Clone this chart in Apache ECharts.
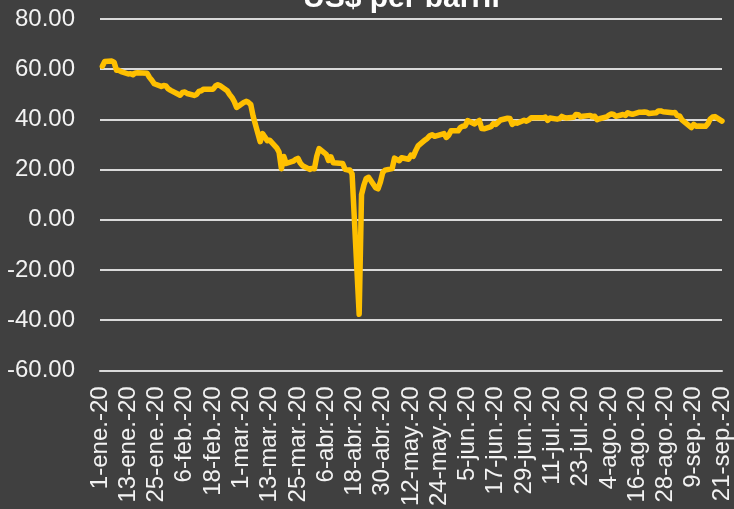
<!DOCTYPE html>
<html>
<head>
<meta charset="utf-8">
<script src="https://cdn.jsdelivr.net/npm/echarts@6/dist/echarts.min.js"></script>
<style>
  html, body { margin: 0; padding: 0; background: #404040; }
  #chart { width: 734px; height: 509px; }
</style>
</head>
<body>
<div id="chart"></div>
<script>
// trading days (2020) and closing price, US$ per barrel
const dates = [
  '01-02','01-03','01-06','01-07','01-08','01-09','01-10','01-13','01-14','01-15','01-16','01-17','01-21','01-22','01-23','01-24','01-27','01-28','01-29','01-30','01-31',
  '02-03','02-04','02-05','02-06','02-07','02-10','02-11','02-12','02-13','02-14','02-18','02-19','02-20','02-21','02-24','02-25','02-26','02-27','02-28',
  '03-02','03-03','03-04','03-05','03-06','03-09','03-10','03-11','03-12','03-13','03-16','03-17','03-18','03-19','03-20','03-23','03-24','03-25','03-26','03-27','03-30','03-31',
  '04-01','04-02','04-03','04-06','04-07','04-08','04-09','04-13','04-14','04-15','04-16','04-17','04-20','04-21','04-22','04-23','04-24','04-27','04-28','04-29','04-30',
  '05-01','05-04','05-05','05-06','05-07','05-08','05-11','05-12','05-13','05-14','05-15','05-18','05-19','05-20','05-21','05-22','05-26','05-27','05-28','05-29',
  '06-01','06-02','06-03','06-04','06-05','06-08','06-09','06-10','06-11','06-12','06-15','06-16','06-17','06-18','06-19','06-22','06-23','06-24','06-25','06-26','06-29','06-30',
  '07-01','07-02','07-06','07-07','07-08','07-09','07-10','07-13','07-14','07-15','07-16','07-17','07-20','07-21','07-22','07-23','07-24','07-27','07-28','07-29','07-30','07-31',
  '08-03','08-04','08-05','08-06','08-07','08-10','08-11','08-12','08-13','08-14','08-17','08-18','08-19','08-20','08-21','08-24','08-25','08-26','08-27','08-28','08-31',
  '09-01','09-02','09-03','09-04','09-08','09-09','09-10','09-11','09-14','09-15','09-16','09-17','09-18','09-21'
]
const prices = [
  61.18,63.05,63.27,62.70,59.61,59.56,59.04,58.08,58.23,57.81,58.52,58.54,58.38,56.74,55.59,54.19,53.14,53.48,53.33,52.14,51.56,
  50.11,49.61,50.75,50.95,50.32,49.57,49.94,51.17,51.42,52.05,52.05,53.29,53.78,53.38,51.43,49.90,48.73,47.09,44.76,
  46.75,47.18,46.78,45.90,41.28,31.13,34.36,32.98,31.50,31.73,28.70,26.95,20.37,25.22,22.43,23.36,24.01,24.49,22.60,21.51,20.09,20.48,
  20.31,25.32,28.34,26.08,23.63,25.09,22.76,22.41,20.11,19.87,19.87,18.27,-37.63,10.01,13.78,16.50,16.94,12.78,12.34,15.06,18.84,
  19.78,20.39,24.56,23.99,23.55,24.74,24.14,25.78,25.29,27.56,29.43,31.82,32.50,33.49,33.92,33.25,34.35,32.81,33.71,35.49,
  35.44,36.81,37.29,37.41,39.55,38.19,38.94,39.60,36.34,36.26,37.12,38.38,37.96,38.84,39.75,40.46,40.37,38.01,38.72,38.49,39.70,39.27,
  39.82,40.65,40.63,40.62,40.90,39.62,40.55,40.10,40.29,41.20,40.75,40.59,40.81,41.96,41.90,41.07,41.29,41.60,41.04,41.27,39.92,40.27,
  41.01,41.70,42.19,41.95,41.22,41.94,41.61,42.67,42.24,42.01,42.89,42.89,42.93,42.82,42.34,42.62,43.35,43.39,43.04,42.97,42.61,
  42.76,41.51,41.37,39.77,36.76,38.05,37.30,37.33,37.26,38.28,40.16,40.97,41.11,39.31
]
// one label every 12 days from 1 Jan
const tickLabels = [
  '1-ene.-20','13-ene.-20','25-ene.-20','6-feb.-20','18-feb.-20','1-mar.-20','13-mar.-20','25-mar.-20',
  '6-abr.-20','18-abr.-20','30-abr.-20','12-may.-20','24-may.-20','5-jun.-20','17-jun.-20','29-jun.-20',
  '11-jul.-20','23-jul.-20','4-ago.-20','16-ago.-20','28-ago.-20','9-sep.-20','21-sep.-20'
]

const dayOf = s => {
  const [m, d] = s.split('-').map(Number)
  return (Date.UTC(2020, m - 1, d) - Date.UTC(2020, 0, 1)) / 864e5
}
const seriesData = dates.map((s, i) => [dayOf(s), prices[i]])

const chart = echarts.init(document.getElementById('chart'))
chart.setOption({
  backgroundColor: '#404040',
  animation: false,
  title: {
    text: 'US$ per barril',
    left: 298,
    top: -21,
    textStyle: { color: '#FFFFFF', fontSize: 30, fontWeight: 'bold', fontFamily: 'Liberation Sans' }
  },
  grid: { left: 100, right: 9, top: 19, bottom: 138 },
  xAxis: {
    type: 'value',
    min: 0,
    max: 264,
    interval: 12,
    axisLine: { show: true, onZero: false, lineStyle: { color: '#D9D9D9', width: 2 } },
    axisTick: { show: false },
    splitLine: { show: false },
    axisLabel: {
      rotate: 90,
      margin: 16,
      color: '#F2F2F2',
      fontSize: 24,
      fontFamily: 'Liberation Sans',
      formatter: v => tickLabels[Math.round(v / 12)] || ''
    }
  },
  yAxis: {
    type: 'value',
    min: -60,
    max: 80,
    interval: 20,
    axisLine: { show: false },
    axisTick: { show: false },
    splitLine: { lineStyle: { color: '#D9D9D9', width: 2 } },
    axisLabel: {
      margin: 25,
      color: '#F2F2F2',
      fontSize: 24,
      fontFamily: 'Liberation Sans',
      formatter: v => v.toFixed(2)
    }
  },
  series: [
    {
      type: 'line',
      data: seriesData,
      showSymbol: false,
      lineStyle: { color: '#FFC000', width: 5.5, cap: 'round', join: 'round' }
    }
  ]
})
</script>
</body>
</html>
